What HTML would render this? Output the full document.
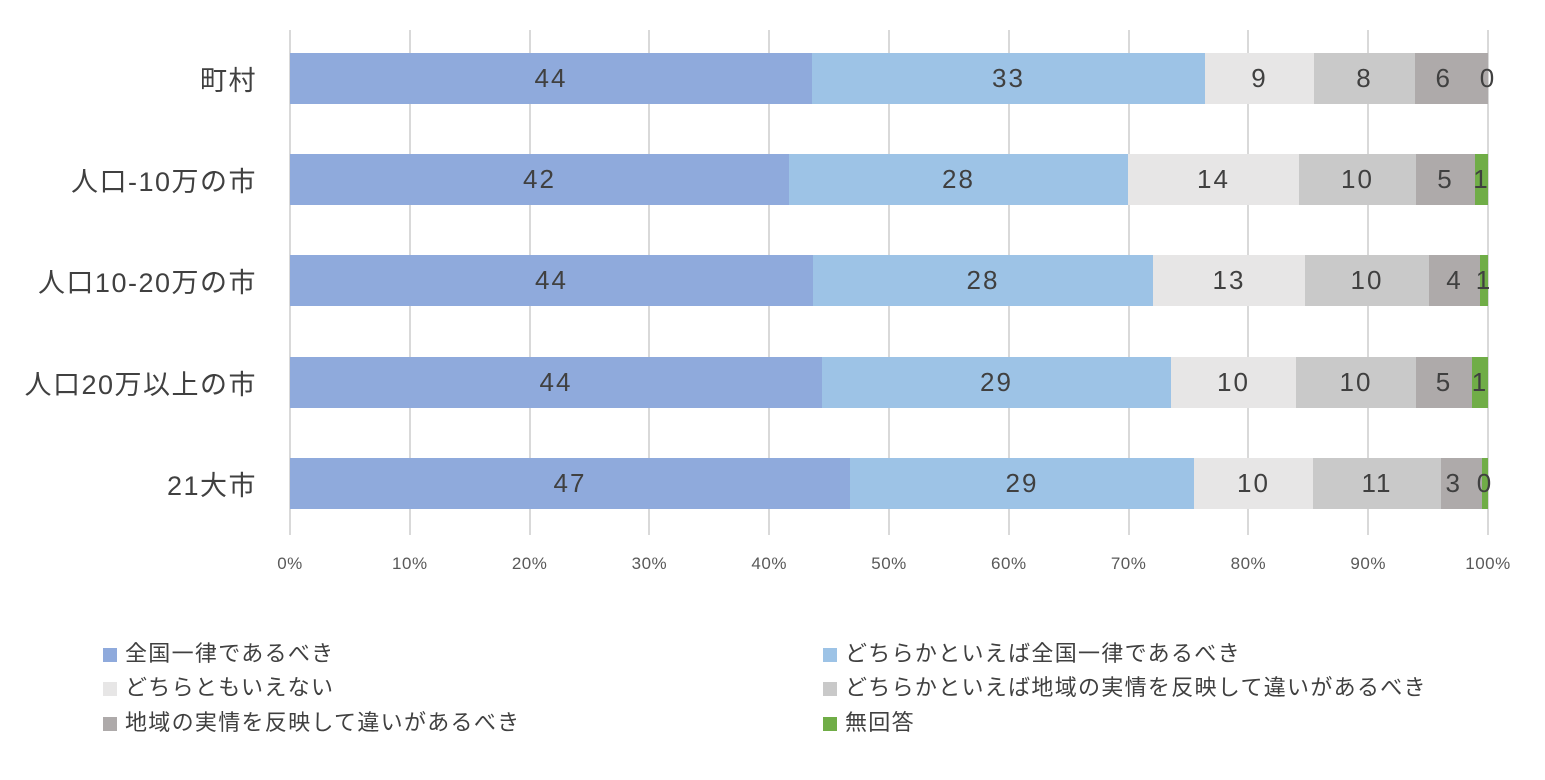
<!DOCTYPE html>
<html><head><meta charset="utf-8"><style>
body{margin:0;background:#fff;width:1545px;height:780px;overflow:hidden;position:relative;font-family:"Liberation Sans","Noto Sans CJK JP",sans-serif}
.g{position:absolute;top:30px;height:505px;width:2px;background:#d9d9d9}
.t{position:absolute;top:554px;font-size:17px;letter-spacing:0.5px;color:#595959;width:80px;text-align:center;margin-left:-40px}
.c{position:absolute;right:1288px;font-size:27px;letter-spacing:1.5px;color:#404040;white-space:nowrap}
.s{position:absolute;height:51px;display:flex;align-items:center;justify-content:center;font-size:26px;letter-spacing:2px;color:#404040;overflow:visible;white-space:nowrap}
.l{position:absolute;font-size:22px;letter-spacing:1.3px;color:#404040;white-space:nowrap}
.l i{display:inline-block;width:14px;height:14px;margin-right:8px;vertical-align:-1px}
</style></head><body>
<div id="grid"></div>
<script>
var h='';
for(var i=0;i<=10;i++){var x=290+i*119.8;h+='<div class="g" style="left:'+(x-1)+'px"></div><div class="t" style="left:'+x+'px">'+(i*10)+'%</div>';}
var cols=['#8faadc','#9dc3e6','#e7e6e6','#c9c9c9','#aeaaaa','#70ad47'];
var rows=[[53,'町村',[290,812,1205,1314,1415,1488,1488],['44','33','9','8','6','0']],
[154,'人口-10万の市',[290,789,1128,1299,1416,1475,1488],['42','28','14','10','5','1']],
[255,'人口10-20万の市',[290,813,1153,1305,1429,1480,1488],['44','28','13','10','4','1']],
[357,'人口20万以上の市',[290,822,1171,1296,1416,1472,1488],['44','29','10','10','5','1']],
[458,'21大市',[290,850,1194,1313,1441,1482,1488],['47','29','10','11','3','0']]];
rows.forEach(function(r){
 h+='<div class="c" style="top:'+(r[0]+6)+'px">'+r[1]+'</div>';
 for(var k=0;k<6;k++){var a=r[2][k],b=r[2][k+1];var lab=r[3][k];
  var st='left:'+a+'px;top:'+r[0]+'px;width:'+(b-a)+'px;background:'+cols[k];
  if(b-a<1){st='left:'+(a-8)+'px;top:'+r[0]+'px;width:16px;background:transparent';}
  else if(k==4&&r[3][5]=='0'){st+=';justify-content:flex-start;padding-left:'+((b-a)/2-16)+'px;width:'+((b-a)/2+16)+'px';}
  h+='<div class="s" style="'+st+'">'+lab+'</div>';}
});
var L=[['全国一律であるべき',103,636],['どちらかといえば全国一律であるべき',823,636],['どちらともいえない',103,670],['どちらかといえば地域の実情を反映して違いがあるべき',823,670],['地域の実情を反映して違いがあるべき',103,705],['無回答',823,705]];
L.forEach(function(l,i){h+='<div class="l" style="left:'+l[1]+'px;top:'+l[2]+'px"><i style="background:'+cols[i]+'"></i>'+l[0]+'</div>';});
document.getElementById('grid').innerHTML=h;
</script>
</body></html>
